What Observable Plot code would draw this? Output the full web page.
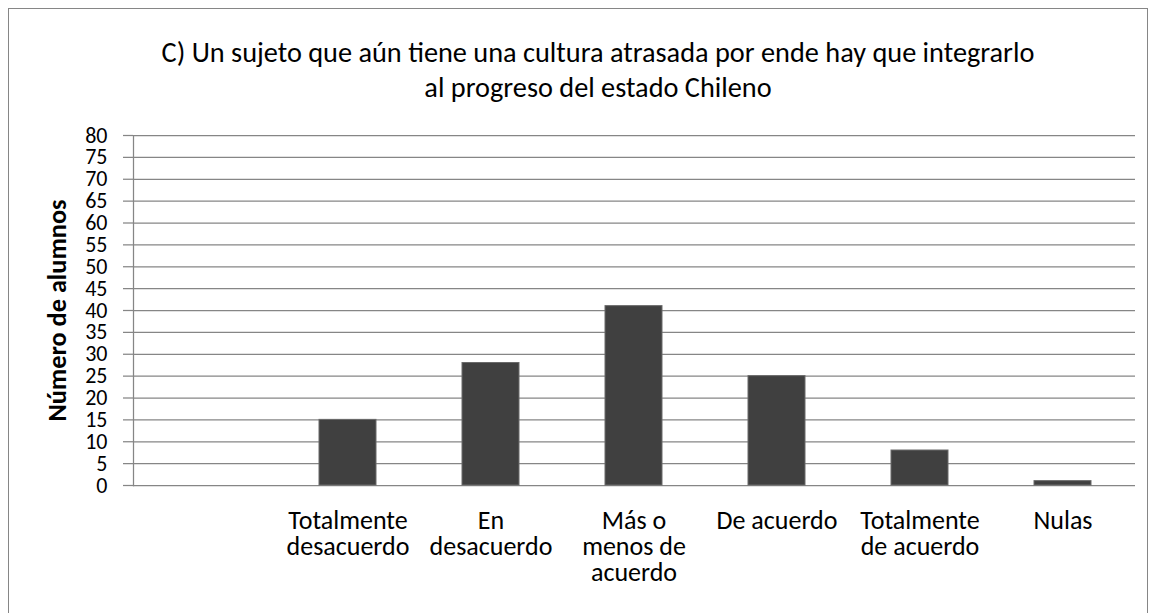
<!DOCTYPE html>
<html>
<head>
<meta charset="utf-8">
<script src="https://cdn.jsdelivr.net/npm/d3@7"></script>
<script src="https://cdn.jsdelivr.net/npm/@observablehq/plot@0.6"></script>
<style>
  html, body { margin: 0; padding: 0; background: #fff; overflow: hidden; }
  body { width: 1154px; height: 613px; position: relative; font-family: Carlito, Calibri, Lato, sans-serif; }
  #frame { position: absolute; left: 8px; top: 8px; width: 1138px; height: 640px; border: 1px solid #868686; background: #fff; }
  #title { position: absolute; left: 89px; width: 1000px; top: 26px; text-align: center; font-size: 28.3px; line-height: 35px; color: #000; white-space: nowrap; }
  #chart { position: absolute; left: 0; top: 91px; }
</style>
</head>
<body>
<div id="frame">
  <div id="title">C) Un sujeto que aún tiene una cultura atrasada por ende hay que integrarlo<br>al progreso del estado Chileno</div>
  <div id="chart"></div>
</div>
<script>
const categories = ["", "Totalmente\ndesacuerdo", "En\ndesacuerdo", "Más o\nmenos de\nacuerdo", "De acuerdo", "Totalmente\nde acuerdo", "Nulas"];
const barCategories = ["Totalmente\ndesacuerdo", "En\ndesacuerdo", "Más o\nmenos de\nacuerdo", "De acuerdo", "Totalmente\nde acuerdo", "Nulas"];
const values = [15, 28, 41, 25, 8, 1];
const yTicks = [0, 5, 10, 15, 20, 25, 30, 35, 40, 45, 50, 55, 60, 65, 70, 75, 80];
const yLabel = "Número de alumnos";

const data = barCategories.map((c, i) => ({cat: c, value: values[i]}));
const font = "Carlito, Calibri, Lato, sans-serif";

const chart = Plot.plot({
  width: 1138,
  height: 510,
  marginTop: 35,
  marginBottom: 125,
  marginLeft: 124,
  marginRight: 12,
  style: {fontFamily: font, fontSize: "24px", color: "#000", background: "transparent", overflow: "visible"},
  x: {domain: categories, paddingInner: 0.6, paddingOuter: 0.3, label: null},
  y: {domain: [0, 80], ticks: yTicks, label: null},
  marks: [
    Plot.gridY(yTicks, {stroke: "#868686", strokeOpacity: 1, strokeWidth: 1.25}),
    Plot.axisY(yTicks, {tickSize: 10, tickPadding: 16, stroke: "#868686", strokeWidth: 1.25, fontSize: 22, fill: "#000", label: null}),
    Plot.frame({anchor: "left", stroke: "#868686", strokeWidth: 1.25}),
    Plot.barY(data, {x: "cat", y: "value", fill: "#404040", stroke: "#6a6a6a", strokeWidth: 1}),
    Plot.axisX({tickSize: 0, tickPadding: 25, lineAnchor: "top", lineHeight: 1.0, fontSize: 26, fill: "#000", label: null}),
    Plot.text([yLabel], {frameAnchor: "left", textAnchor: "middle", rotate: -90, dx: -76, dy: 0, fontWeight: "bold", fontSize: 26.3, fill: "#000"})
  ]
});
document.getElementById("chart").appendChild(chart);
</script>
</body>
</html>
